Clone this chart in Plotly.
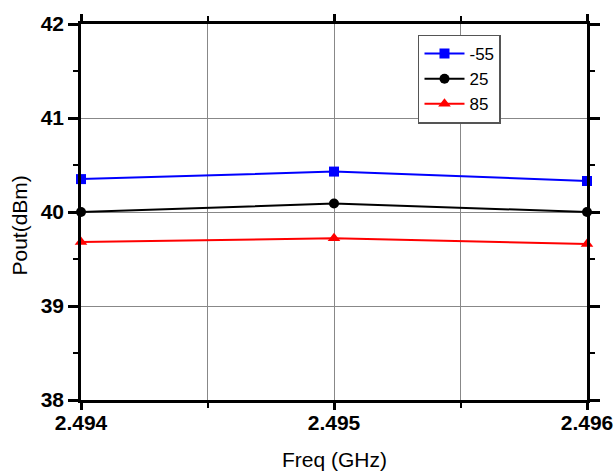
import plotly.graph_objects as go

freq = [2.494, 2.495, 2.496]
temps = ["-55", "25", "85"]
pout_m55 = [40.35, 40.43, 40.33]
pout_25 = [40.00, 40.09, 40.00]
pout_85 = [39.68, 39.72, 39.66]
x_ticklabels = ["2.494", "2.495", "2.496"]
y_ticks = [38, 39, 40, 41, 42]

series = [
    (temps[0], pout_m55, "#0000ff", "square", 10),
    (temps[1], pout_25, "#000000", "circle", 10),
    (temps[2], pout_85, "#ff0000", "triangle-up", 11),
]

fig = go.Figure()
for name, vals, col, sym, sz in series:
    fig.add_trace(go.Scatter(
        x=freq, y=vals, name=name, mode="lines+markers",
        line=dict(color=col, width=2),
        marker=dict(symbol=sym, size=sz, color=col),
        cliponaxis=False,
    ))

tickfont = dict(family="Liberation Sans", size=21, color="black", weight="bold")
titlefont = dict(family="Liberation Sans", size=21, color="black")
fig.update_layout(
    width=616, height=475,
    margin=dict(l=81, r=29, t=24, b=75, autoexpand=False),
    plot_bgcolor="white", paper_bgcolor="white",
    showlegend=True,
    legend=dict(
        x=0.666, y=0.972, xanchor="left", yanchor="top",
        bgcolor="white", bordercolor="#555555", borderwidth=1.5,
        font=dict(family="Liberation Sans", size=17, color="black"),
        tracegroupgap=0, itemwidth=40,
    ),
    xaxis=dict(
        range=[2.494, 2.496], tickvals=freq, ticktext=x_ticklabels,
        showgrid=True, gridcolor="#888888", gridwidth=1,
        showline=True, linecolor="black", linewidth=2.5, mirror="allticks",
        ticks="outside", ticklen=7, tickwidth=2.5, tickcolor="black",
        tickfont=tickfont, zeroline=False, automargin=False,
        ticklabelstandoff=-5,
        minor=dict(dtick=0.0005, tick0=2.494, showgrid=True, gridcolor="#888888", gridwidth=1,
                   ticks="outside", ticklen=5, tickwidth=2, tickcolor="black"),
    ),
    yaxis=dict(
        range=[38, 42], tickvals=y_ticks,
        showgrid=True, gridcolor="#888888", gridwidth=1,
        showline=True, linecolor="black", linewidth=2.5, mirror="allticks",
        ticks="outside", ticklen=10, tickwidth=2.5, tickcolor="black",
        tickfont=tickfont, zeroline=False, automargin=False,
        minor=dict(dtick=0.5, tick0=38, showgrid=False,
                   ticks="outside", ticklen=5, tickwidth=2, tickcolor="black"),
    ),
    annotations=[
        dict(text="Freq (GHz)", xref="paper", yref="paper", x=0.5, y=-0.157,
             xanchor="center", yanchor="middle", showarrow=False, font=titlefont),
        dict(text="Pout(dBm)", xref="paper", yref="paper", x=-0.1206, y=0.464,
             xanchor="center", yanchor="middle", showarrow=False, font=titlefont, textangle=-90),
    ],
)

fig.write_html("out.html", config={"displayModeBar": False},
               post_script="document.body.style.margin='0';")
